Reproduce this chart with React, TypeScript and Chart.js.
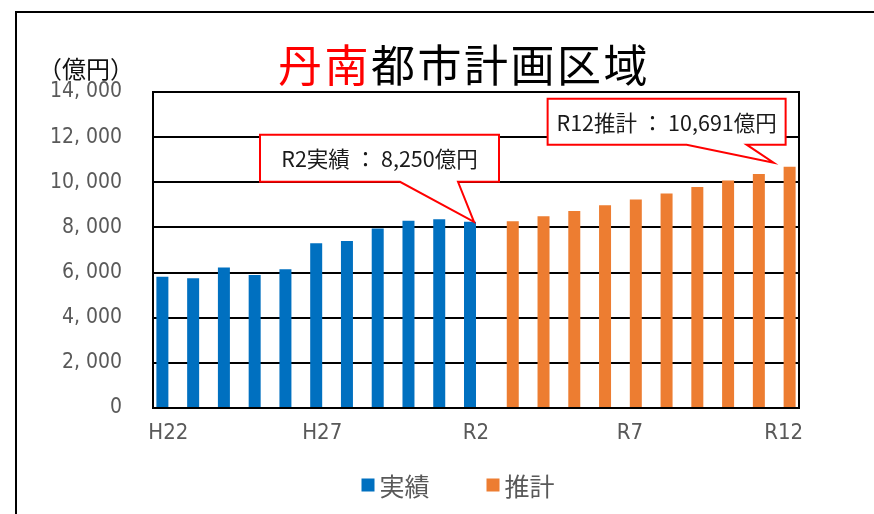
import React, { useEffect, useRef } from 'react';
import { Chart, registerables } from 'chart.js';

Chart.register(...registerables);

const categories = ['H22', 'H23', 'H24', 'H25', 'H26', 'H27', 'H28', 'H29', 'H30', 'R1', 'R2', 'R3', 'R4', 'R5', 'R6', 'R7', 'R8', 'R9', 'R10', 'R11', 'R12'];
const actualValues = [5820, 5750, 6230, 5890, 6150, 7300, 7400, 7950, 8300, 8360, 8250, null, null, null, null, null, null, null, null, null, null];
const forecastValues = [null, null, null, null, null, null, null, null, null, null, null, 8270, 8490, 8730, 8980, 9240, 9500, 9790, 10080, 10370, 10691];
const yTickValues = [0, 2000, 4000, 6000, 8000, 10000, 12000, 14000];
const seriesNames = ['実績', '推計'];
const seriesColors = ['#0070C0', '#ED7D31'];
const titleRed = '丹南';
const titleBlack = '都市計画区域';
const unitLabel = '（億円）';
const calloutTexts = ['R2実績 ： 8,250億円', 'R12推計 ： 10,691億円'];

const CJK = "'Noto Sans CJK JP', 'Noto Sans', sans-serif";
const NARROW = "'Liberation Sans Narrow', 'DejaVu Sans Condensed', sans-serif";

type Callout = {
  ds: number; idx: number; text: string;
  l: number; r: number; t: number; b: number;
  tipX: number; tipY: number; b1: number; b2: number;
};

const callouts: Callout[] = [
  { ds: 0, idx: 10, text: calloutTexts[0], l: -210, r: 29, t: -87, b: -40, tipX: 4, tipY: 0, b1: -70, b2: -12 },
  { ds: 1, idx: 20, text: calloutTexts[1], l: -242, r: -4, t: -68, b: -22, tipX: -16, tipY: -4, b1: -103, b2: -43 },
];

const decorPlugin = {
  id: 'decor',
  afterDraw(chart: any) {
    const ctx = chart.ctx as CanvasRenderingContext2D;
    const ca = chart.chartArea;
    ctx.save();
    // outer frame
    ctx.strokeStyle = '#000';
    ctx.lineWidth = 2;
    ctx.strokeRect(16, 12, 900, 600);
    // plot border
    ctx.lineWidth = 2;
    ctx.strokeRect(ca.left, ca.top, ca.right - ca.left, ca.bottom - ca.top);

    // title
    ctx.font = `44px ${CJK}`;
    (ctx as any).letterSpacing = '2.5px';
    ctx.textBaseline = 'middle';
    ctx.textAlign = 'left';
    const wRed = ctx.measureText(titleRed).width;
    const wBlack = ctx.measureText(titleBlack).width;
    const cx = (ca.left + ca.right) / 2 - 12;
    const x = cx - (wRed + wBlack) / 2;
    const ty = ca.top - 27;
    ctx.fillStyle = '#FF0000';
    ctx.fillText(titleRed, x, ty);
    ctx.fillStyle = '#000';
    ctx.fillText(titleBlack, x + wRed, ty);
    (ctx as any).letterSpacing = '0px';

    // unit label
    ctx.font = `24px ${CJK}`;
    ctx.textAlign = 'center';
    ctx.fillStyle = '#111';
    ctx.fillText(unitLabel, 86, ca.top - 23);

    // legend
    ctx.font = `25px ${CJK}`;
    ctx.textAlign = 'left';
    const box = 13, gapBT = 5, gapItems = 57;
    const widths = seriesNames.map((n) => ctx.measureText(n).width);
    const total = widths.reduce((a, w) => a + box + gapBT + w, 0) + gapItems * (seriesNames.length - 1);
    let lx = (ca.left + ca.right) / 2 - 18 - total / 2;
    const ly = ca.bottom + 77;
    seriesNames.forEach((n, i) => {
      ctx.fillStyle = seriesColors[i];
      ctx.fillRect(lx, ly - box / 2, box, box);
      ctx.fillStyle = '#595959';
      ctx.fillText(n, lx + box + gapBT, ly + 1);
      lx += box + gapBT + widths[i] + gapItems;
    });

    // callouts
    callouts.forEach((c) => {
      const el = chart.getDatasetMeta(c.ds).data[c.idx];
      const bx = el.x, by = el.y;
      ctx.beginPath();
      ctx.moveTo(bx + c.l, by + c.t);
      ctx.lineTo(bx + c.r, by + c.t);
      ctx.lineTo(bx + c.r, by + c.b);
      ctx.lineTo(bx + c.b2, by + c.b);
      ctx.lineTo(bx + c.tipX, by + c.tipY);
      ctx.lineTo(bx + c.b1, by + c.b);
      ctx.lineTo(bx + c.l, by + c.b);
      ctx.closePath();
      ctx.fillStyle = '#fff';
      ctx.fill();
      ctx.strokeStyle = '#FF0000';
      ctx.lineWidth = 2;
      ctx.lineJoin = 'miter';
      ctx.stroke();
      ctx.font = `21.5px ${CJK}`;
      ctx.fillStyle = '#1a1a1a';
      ctx.textAlign = 'center';
      ctx.textBaseline = 'middle';
      ctx.fillText(c.text, bx + (c.l + c.r) / 2, by + (c.t + c.b) / 2 + 1);
    });
    ctx.restore();
  },
};

export default function App() {
  const ref = useRef<HTMLCanvasElement | null>(null);
  useEffect(() => {
    if (!ref.current) return;
    const chart = new Chart(ref.current, {
      type: 'bar',
      data: {
        labels: categories,
        datasets: [
          { label: seriesNames[0], data: actualValues as any, backgroundColor: seriesColors[0], borderWidth: 0 },
          { label: seriesNames[1], data: forecastValues as any, backgroundColor: seriesColors[1], borderWidth: 0 },
        ],
      },
      options: {
        responsive: false,
        animation: false,
        devicePixelRatio: 1,
        layout: { padding: { left: 0, top: 92, right: 75, bottom: 0 } },
        datasets: { bar: { categoryPercentage: 0.78, barPercentage: 1 } },
        plugins: { legend: { display: false }, tooltip: { enabled: false }, title: { display: false } },
        scales: {
          x: {
            grid: { display: false, drawTicks: false },
            border: { display: true, color: '#000', width: 2 },
            ticks: {
              autoSkip: false,
              maxRotation: 0,
              padding: 12,
              color: '#595959',
              font: { family: NARROW, size: 22 },
              callback: (_v: any, i: number) => (i % 5 === 0 ? categories[i] : ''),
            },
            afterFit: (s: any) => { s.height = 106; },
          },
          y: {
            min: 0,
            max: 14000,
            afterBuildTicks: (s: any) => { s.ticks = yTickValues.map((v) => ({ value: v })); },
            grid: { color: '#000', lineWidth: 2, drawTicks: false },
            border: { display: true, color: '#000', width: 2 },
            ticks: {
              padding: 31,
              color: '#595959',
              font: { family: NARROW, size: 21 },
              callback: (v: any) => Number(v).toLocaleString('en-US').replace(',', ', '),
            },
            afterFit: (s: any) => { s.width = 153; },
          },
        },
      },
      plugins: [decorPlugin],
    });
    return () => chart.destroy();
  }, []);
  return (
    <div style={{ position: 'fixed', left: 0, top: 0, width: 874, height: 514, background: '#fff' }}>
      <canvas ref={ref} width={874} height={514} style={{ display: 'block' }} />
    </div>
  );
}
